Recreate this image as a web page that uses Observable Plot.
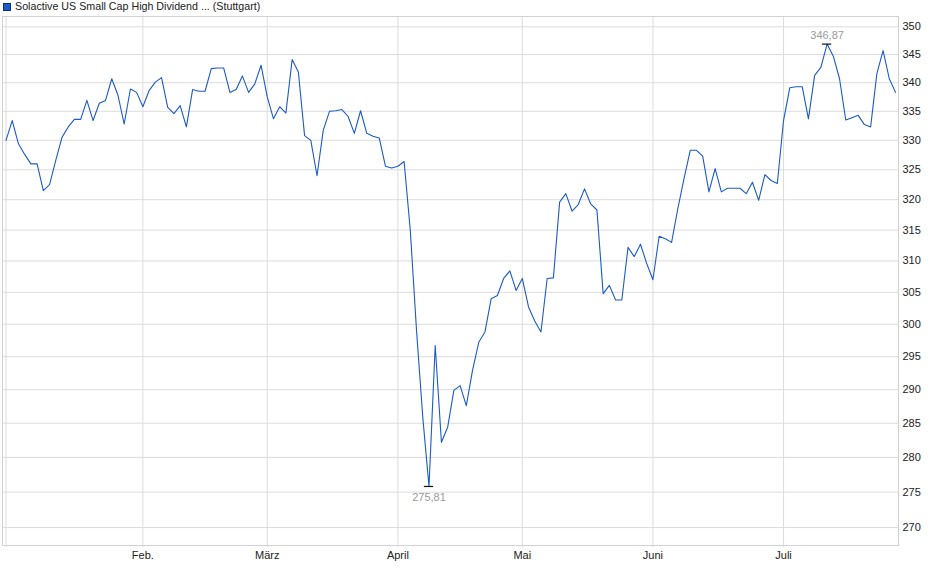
<!DOCTYPE html>
<html>
<head>
<meta charset="utf-8">
<script src="https://cdn.jsdelivr.net/npm/d3@7"></script>
<script src="https://cdn.jsdelivr.net/npm/@observablehq/plot@0.6"></script>
<style>
  html, body { margin: 0; padding: 0; background: #fff; }
  body { width: 940px; height: 579px; overflow: hidden; font-family: "Liberation Sans", Arial, sans-serif; }
  #legend { height: 14px; position: relative; font-size: 10.7px; color: #222; }
  #legend .sw { position: absolute; left: 3px; top: 3px; width: 6px; height: 6px; background: #1c5bc6; border: 1px solid #0d2f73; }
  #legend .tx { position: absolute; left: 15px; top: 0px; line-height: 13px; white-space: nowrap; }
  #chart svg { display: block; }
</style>
</head>
<body>
<div id="legend"><span class="sw"></span><span class="tx">Solactive US Small Cap High Dividend ... (Stuttgart)</span></div>
<div id="chart"></div>
<script>
// Daily closing values (trading-day index 0 = early January)
const values = [
  330.0, 333.4, 329.4, 327.6, 326.0, 326.0, 321.5, 322.5, 326.6, 330.5,
  332.3, 333.6, 333.6, 336.9, 333.4, 336.4, 336.9, 340.7, 337.8, 332.8,
  338.9, 338.3, 335.8, 338.6, 340.1, 340.9, 335.7, 334.6, 336.0, 332.3,
  338.8, 338.5, 338.5, 342.5, 342.6, 342.6, 338.3, 338.8, 341.2, 338.3,
  339.8, 343.1, 337.5, 333.7, 335.8, 334.7, 344.1, 341.9, 330.8, 330.0,
  324.0, 331.7, 335.0, 335.1, 335.3, 334.1, 331.2, 335.1, 331.2, 330.7,
  330.4, 325.6, 325.3, 325.6, 326.4, 314.9, 299.0, 285.9, 275.81, 296.7,
  282.2, 284.4, 289.9, 290.6, 287.6, 292.9, 297.2, 298.8, 304.0, 304.5,
  307.2, 308.4, 305.3, 307.2, 302.7, 300.5, 298.8, 307.2, 307.3, 319.6,
  321.0, 318.1, 319.2, 321.8, 319.3, 318.3, 304.8, 306.1, 303.8, 303.8,
  312.2, 310.7, 312.7, 309.6, 307.0, 314.0, 313.6, 313.0, 318.5, 323.5,
  328.3, 328.3, 327.3, 321.3, 325.2, 321.3, 321.9, 321.9, 321.9, 321.0,
  322.9, 319.9, 324.2, 323.2, 322.7, 333.4, 339.1, 339.3, 339.3, 333.7,
  341.3, 342.7, 346.87, 344.7, 340.7, 333.5, 333.9, 334.3, 332.7, 332.3,
  341.6, 345.7, 340.7, 338.3
];
// first trading day of each month (index into values)
const monthTickIdx = [0, 22, 42, 63, 83, 104, 125];
const monthLabels = ["", "Feb.", "März", "April", "Mai", "Juni", "Juli"];
const yTicks = [270, 275, 280, 285, 290, 295, 300, 305, 310, 315, 320, 325, 330, 335, 340, 345, 350];

const data = values.map((v, i) => ({i, v}));
const maxPt = data[d3.maxIndex(values)];
const minPt = data[d3.minIndex(values)];
const fmt = v => v.toFixed(2).replace(".", ",");
const labelOf = new Map(monthTickIdx.map((t, k) => [t, monthLabels[k]]));

const chart = Plot.plot({
  width: 940,
  height: 565,
  marginTop: 2,
  marginBottom: 34,
  marginLeft: 2,
  marginRight: 42,
  x: {domain: [-0.563, 143.48], axis: null},
  y: {type: "log", domain: [267.5, 351.87], axis: null},
  style: {fontFamily: "'Liberation Sans', Arial, sans-serif", fontSize: "11px", background: "white", color: "#222"},
  marks: [
    Plot.ruleY(yTicks, {stroke: "#dcdcdc", strokeWidth: 1}),
    Plot.ruleX(monthTickIdx, {stroke: "#dcdcdc", strokeWidth: 1, insetBottom: -2}),
    Plot.frame({stroke: "#d2d2d2"}),
    Plot.axisY(yTicks, {anchor: "right", tickSize: 0, tickPadding: 4, tickFormat: d => String(d), label: null, fill: "#222"}),
    Plot.axisX(monthTickIdx.slice(1), {anchor: "bottom", tickSize: 0, tickPadding: 6, tickFormat: d => labelOf.get(d), label: null, fill: "#222"}),
    Plot.line(data, {x: "i", y: "v", stroke: "#1c5bc6", strokeWidth: 1.1}),
    Plot.ruleY([maxPt, minPt], {x1: d => d.i - 0.75, x2: d => d.i + 0.75, y: "v", stroke: "#111", strokeWidth: 1.2}),
    Plot.text([maxPt], {x: "i", y: "v", text: d => fmt(d.v), dy: -9, fill: "#9a9a9a"}),
    Plot.text([minPt], {x: "i", y: "v", text: d => fmt(d.v), dy: 11, fill: "#9a9a9a"})
  ]
});
document.getElementById("chart").appendChild(chart);
</script>
</body>
</html>
